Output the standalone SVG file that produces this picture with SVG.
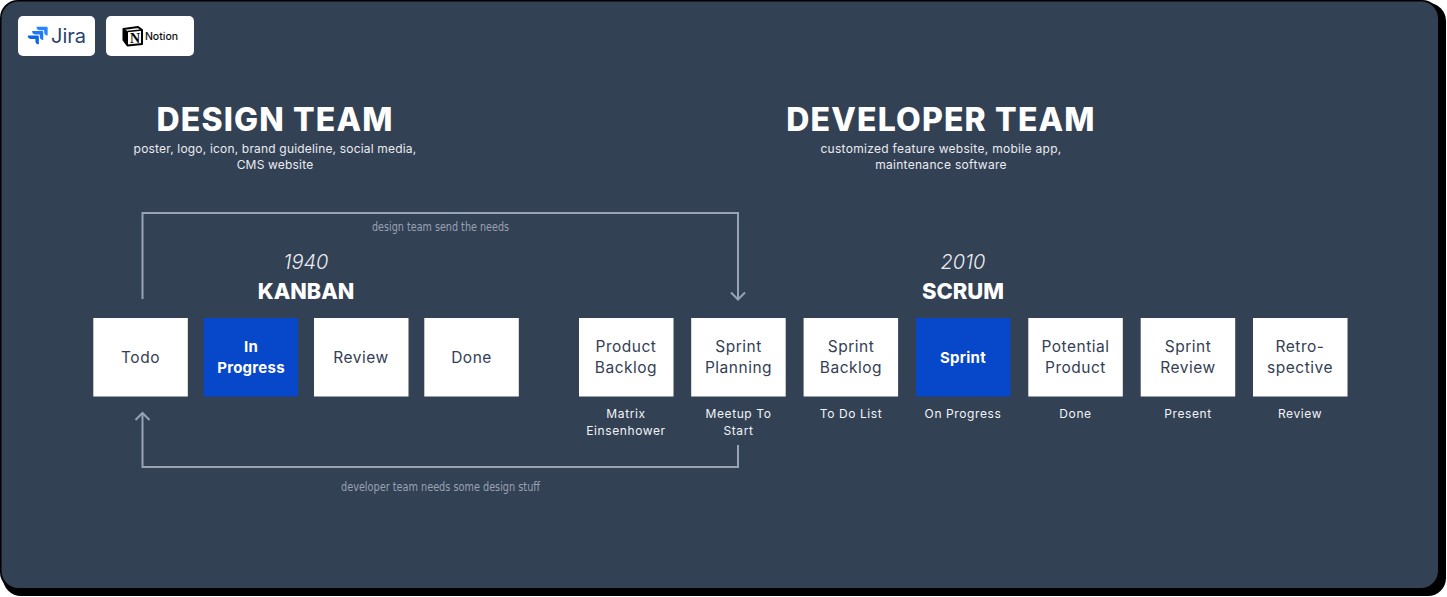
<svg xmlns="http://www.w3.org/2000/svg" width="1447" height="597" viewBox="0 0 1447 597">
<style>
text{font-family:"Inter","Open Sans","Liberation Sans",sans-serif;text-anchor:middle}
.box{fill:#fff}
.act{fill:#0747c9}
.bt{font-size:15.500px;fill:#344054;letter-spacing:.5px}
.bw{font-size:15px;font-weight:700;fill:#fff;letter-spacing:.25px}
.sub{font-size:12px;fill:#f2f4f7;letter-spacing:.6px}
.h1{font-size:32px;font-weight:800;fill:#fff;letter-spacing:1.150px}
.desc{font-size:12px;fill:#eaecf0;letter-spacing:.3px}
.yr{font-size:20px;font-weight:300;font-style:italic;fill:#eaecf0}
.h2{font-size:22px;font-weight:800;fill:#fff}
.note{font-family:"DejaVu Sans",sans-serif;font-size:12.500px;fill:#98a2b3}
.c{fill:none;stroke:#98a2b3;stroke-width:2}
.logo{fill:#fff}
</style>
<defs>
<path id="jira-mark" d="M0 0H8.700a1 1 0 0 1 1 1V7.700a3 3 0 0 1-3-3V3H3a3 3 0 0 1-3-3z"/>
</defs>
<rect x="3" y="3" width="1443" height="593" rx="18" fill="#000"/>
<rect x="0" y="0" width="1440" height="590" rx="18" fill="#000"/>
<rect x="1.500" y="1.500" width="1436.500" height="586.500" rx="17" fill="#334155"/>

<g id="logo-jira">
<rect class="logo" x="18" y="16" width="77" height="40" rx="5"/>
<use href="#jira-mark" transform="translate(36.500 26.700) scale(1.150)" fill="#2684ff"/>
<use href="#jira-mark" transform="translate(32.100 31.100) scale(1.150)" fill="#1f78f5"/>
<use href="#jira-mark" transform="translate(27.700 35.500) scale(1.150)" fill="#0c66e4"/>
<text x="68.500" y="43" style="font-size:20px;fill:#2a4270;font-weight:400">Jira</text>
</g>
<g id="logo-notion">
<rect class="logo" x="106" y="16" width="88" height="40" rx="5"/>
<path d="M123.500 29L138 27L142 30V44L127.500 45.500L123.500 40Z" fill="#fff" stroke="#000" stroke-width="2" stroke-linejoin="round"/>
<path d="M123.500 29L127.500 31.500V45.500L123.500 40Z" fill="#000" stroke="#000" stroke-linejoin="round"/>
<path d="M127.500 31.500L142 30" fill="none" stroke="#000" stroke-width="1.500"/>
<text x="135" y="43" style="font-family:'Liberation Serif',serif;font-size:14px;font-weight:700;fill:#000">N</text>
<text x="161.500" y="40" style="font-size:10.500px;font-weight:500;fill:#111">Notion</text>
</g>

<g id="title-design">
<text class="h1" x="275" y="131">DESIGN TEAM</text>
<text class="desc" x="275" y="153" style="letter-spacing:.18px">poster, logo, icon, brand guideline, social media,</text>
<text class="desc" x="275" y="169" style="letter-spacing:.18px">CMS website</text>
</g>
<g id="title-developer">
<text class="h1" x="941" y="131">DEVELOPER TEAM</text>
<text class="desc" x="941" y="153">customized feature website, mobile app,</text>
<text class="desc" x="941" y="169">maintenance software</text>
</g>
<g id="title-kanban">
<text class="yr" x="306" y="269">1940</text>
<text class="h2" x="306" y="299" style="font-size:21.600px">KANBAN</text>
</g>
<g id="title-scrum">
<text class="yr" x="963" y="269">2010</text>
<text class="h2" x="963" y="299">SCRUM</text>
</g>

<g id="connectors">
<path class="c" d="M142.500 299V213H738V299"/>
<path class="c" d="M731 292.500L738 299.500L745 292.500"/>
<path class="c" d="M738 445V467H142.500V413"/>
<path class="c" d="M135.500 420L142.500 413L149.500 420"/>
<text class="note" x="440.500" y="231" textLength="137" lengthAdjust="spacingAndGlyphs">design team send the needs</text>
<text class="note" x="440.500" y="491" textLength="199" lengthAdjust="spacingAndGlyphs">developer team needs some design stuff</text>
</g>

<g id="node-todo"><rect class="box" x="93.300" y="318" width="94.500" height="78.500"/><text class="bt" x="140.500" y="362.500">Todo</text></g>
<g id="node-in-progress"><rect class="act" x="203.700" y="318" width="94.300" height="78.500"/><text class="bw" x="251" y="352">In</text><text class="bw" x="251" y="373">Progress</text></g>
<g id="node-review"><rect class="box" x="314" y="318" width="94.500" height="78.500"/><text class="bt" x="361" y="362.500">Review</text></g>
<g id="node-done"><rect class="box" x="424.300" y="318" width="94.500" height="78.500"/><text class="bt" x="471.500" y="362.500">Done</text></g>

<g id="node-product-backlog"><rect class="box" x="579" y="318" width="94.500" height="78.500"/><text class="bt" x="626" y="352">Product</text><text class="bt" x="626" y="373">Backlog</text><text class="sub" x="626" y="417.500">Matrix</text><text class="sub" x="626" y="434.500">Einsenhower</text></g>
<g id="node-sprint-planning"><rect class="box" x="691.200" y="318" width="94.500" height="78.500"/><text class="bt" x="738.500" y="352">Sprint</text><text class="bt" x="738.500" y="373">Planning</text><text class="sub" x="738.500" y="417.500">Meetup To</text><text class="sub" x="738.500" y="434.500">Start</text></g>
<g id="node-sprint-backlog"><rect class="box" x="803.600" y="318" width="94.500" height="78.500"/><text class="bt" x="851" y="352">Sprint</text><text class="bt" x="851" y="373">Backlog</text><text class="sub" x="851" y="417.500">To Do List</text></g>
<g id="node-sprint"><rect class="act" x="916" y="318" width="94.500" height="78.500"/><text class="bw" x="963" y="362.500">Sprint</text><text class="sub" x="963" y="417.500">On Progress</text></g>
<g id="node-potential-product"><rect class="box" x="1028.300" y="318" width="94.500" height="78.500"/><text class="bt" x="1075.500" y="352">Potential</text><text class="bt" x="1075.500" y="373">Product</text><text class="sub" x="1075.500" y="417.500">Done</text></g>
<g id="node-sprint-review"><rect class="box" x="1140.700" y="318" width="94.500" height="78.500"/><text class="bt" x="1188" y="352">Sprint</text><text class="bt" x="1188" y="373">Review</text><text class="sub" x="1188" y="417.500">Present</text></g>
<g id="node-retrospective"><rect class="box" x="1253" y="318" width="94.500" height="78.500"/><text class="bt" x="1300" y="352">Retro-</text><text class="bt" x="1300" y="373">spective</text><text class="sub" x="1300" y="417.500">Review</text></g>
</svg>
